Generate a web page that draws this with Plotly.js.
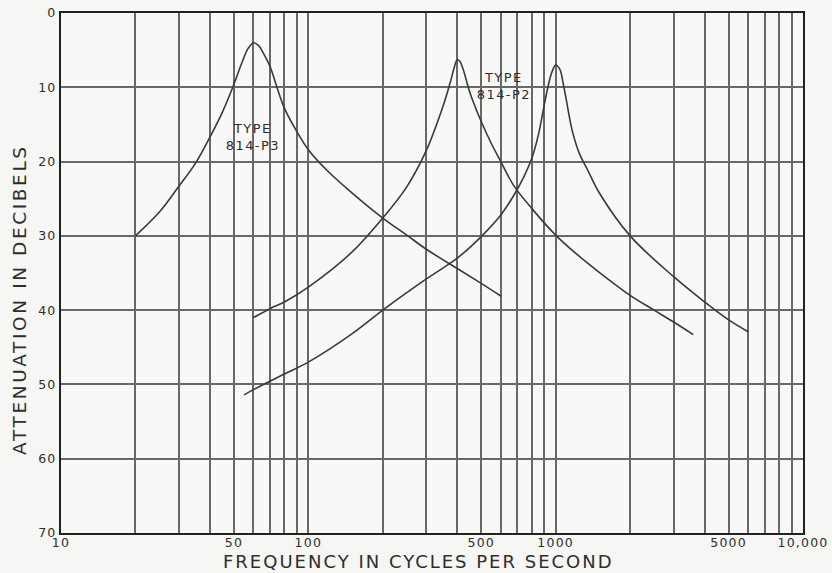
<!DOCTYPE html>
<html>
<head>
<meta charset="utf-8">
<script src="https://cdn.plot.ly/plotly-3.0.1.min.js"></script>
<style>
  html, body { margin: 0; padding: 0; background: #f6f6f4; }
  #chart { width: 832px; height: 573px; }
  #chart .xtick text, #chart .ytick text { letter-spacing: 1.2px; }
  #chart .annotation[data-index="0"] text,
  #chart .annotation[data-index="1"] text { letter-spacing: 1.4px; }
  #chart .annotation[data-index="2"] text { letter-spacing: 2px; }
  #chart .annotation[data-index="3"] text { letter-spacing: 2.6px; }
</style>
</head>
<body>
<div id="chart"></div>
<script>
// ---- Data ----
const p3Freq = [20, 25, 30, 35, 40, 45, 50, 54, 57, 60, 63, 66, 70, 75, 80, 90, 100, 120, 150, 200, 250, 300, 400, 500, 600];
const p3Db   = [30, 26.8, 23.3, 20.2, 16.7, 13.3, 9.6, 6.6, 4.8, 4.0, 4.4, 5.5, 7.2, 10.2, 12.8, 16.0, 18.4, 21.3, 24.2, 27.6, 29.9, 31.8, 34.4, 36.4, 38.1];

const p2aFreq = [60, 70, 80, 100, 150, 200, 250, 300, 350, 370, 380, 390, 400, 410, 420, 435, 445, 460, 500, 550, 600, 676, 800, 1000, 1200, 1500, 2000, 2500, 3000, 3600];
const p2aDb   = [41, 39.8, 38.9, 36.9, 32.2, 27.6, 23.4, 18.5, 12.6, 10, 8.6, 7.2, 6.3, 6.5, 7.3, 9.0, 10.2, 11.6, 14.6, 17.6, 20.0, 23.2, 26.3, 29.9, 32.3, 34.9, 38.0, 40.0, 41.6, 43.3];

const p2bFreq = [55, 60, 80, 100, 150, 200, 300, 400, 500, 600, 676, 740, 800, 850, 900, 930, 960, 1000, 1040, 1070, 1100, 1170, 1250, 1350, 1500, 2000, 3000, 4000, 4500, 5000, 6000];
const p2bDb   = [51.4, 50.7, 48.6, 47.0, 43.2, 40.0, 35.8, 33.0, 30.1, 27.2, 24.6, 22.2, 19.6, 16.5, 12.3, 10.0, 8.2, 7.0, 7.6, 9.3, 11.4, 16.0, 19.0, 21.2, 24.2, 30.0, 35.5, 38.9, 40.2, 41.3, 42.9];

const gridFreqs = [10,20,30,40,50,60,70,80,90,100,200,300,400,500,600,700,800,900,1000,2000,3000,4000,5000,6000,7000,8000,9000,10000];
const gridLabels = ['10','','','','50','','','','','100','','','','500','','','','','1000','','','','5000','','','','','10,000'];
const dbTicks = [0, 10, 20, 30, 40, 50, 60, 70];

const labelP3 = 'TYPE<br>814-P3';
const labelP2 = 'TYPE<br>814-P2';
const xTitle = 'FREQUENCY IN CYCLES PER SECOND';
const yTitle = 'ATTENUATION IN DECIBELS';

// ---- Styling ----
const ink = '#2e2e2e';
const gridInk = '#686868';
const plotBg = '#f8f8f6';
const font = 'DejaVu Sans, Verdana, sans-serif';

const curveStyle = { color: '#3a3a3a', width: 1.6, shape: 'spline', smoothing: 1 };

const traces = [
  { x: p3Freq, y: p3Db, mode: 'lines', line: curveStyle, hoverinfo: 'skip' },
  { x: p2aFreq, y: p2aDb, mode: 'lines', line: curveStyle, hoverinfo: 'skip' },
  { x: p2bFreq, y: p2bDb, mode: 'lines', line: curveStyle, hoverinfo: 'skip' }
];

// paper fraction along log x axis (10..10000)
const px = f => Math.log10(f / 10) / 3;

const layout = {
  width: 832, height: 573,
  margin: { l: 61, r: 29, t: 13, b: 40 },
  paper_bgcolor: '#f6f6f4',
  plot_bgcolor: plotBg,
  showlegend: false,
  font: { family: font, color: ink },
  xaxis: {
    type: 'log', range: [1, 4],
    tickmode: 'array', tickvals: gridFreqs, ticktext: gridLabels,
    showgrid: true, gridcolor: gridInk, gridwidth: 2,
    showline: true, mirror: true, linecolor: '#222', linewidth: 2,
    ticks: '', zeroline: false, ticklabelstandoff: -3,
    tickfont: { family: font, size: 12.5, color: ink }
  },
  yaxis: {
    range: [70, 0],
    tickmode: 'array', tickvals: dbTicks,
    showgrid: true, gridcolor: gridInk, gridwidth: 2,
    showline: true, mirror: true, linecolor: '#222', linewidth: 2,
    ticks: '', zeroline: false,
    tickfont: { family: font, size: 12.5, color: ink }
  },
  shapes: [
    // gaps in the grid behind the curve labels
    { type: 'rect', layer: 'between', xref: 'paper', yref: 'y',
      x0: px(45), x1: px(87), y0: 13.0, y1: 19.8,
      fillcolor: plotBg, line: { width: 0 } },
    { type: 'rect', layer: 'between', xref: 'paper', yref: 'y',
      x0: px(483), x1: px(880), y0: 7.7, y1: 12.8,
      fillcolor: plotBg, line: { width: 0 } }
  ],
  annotations: [
    { x: Math.log10(60), y: 16.75, xref: 'x', yref: 'y', text: labelP3,
      showarrow: false, font: { family: font, size: 13, color: ink }, align: 'center' },
    { x: Math.log10(621), y: 9.8, xref: 'x', yref: 'y', text: labelP2,
      showarrow: false, font: { family: font, size: 13, color: ink }, align: 'center' },
    { x: (418 - 61) / 742, y: (533 - 561) / 520, xref: 'paper', yref: 'paper',
      text: xTitle, showarrow: false, xanchor: 'center', yanchor: 'middle',
      font: { family: font, size: 18, color: ink } },
    { x: (19 - 61) / 742, y: (533 - 300) / 520, xref: 'paper', yref: 'paper',
      text: yTitle, showarrow: false, textangle: -90, xanchor: 'center', yanchor: 'middle',
      font: { family: font, size: 18.5, color: ink } }
  ]
};

Plotly.newPlot('chart', traces, layout, { displayModeBar: false, staticPlot: true });
</script>
</body>
</html>
